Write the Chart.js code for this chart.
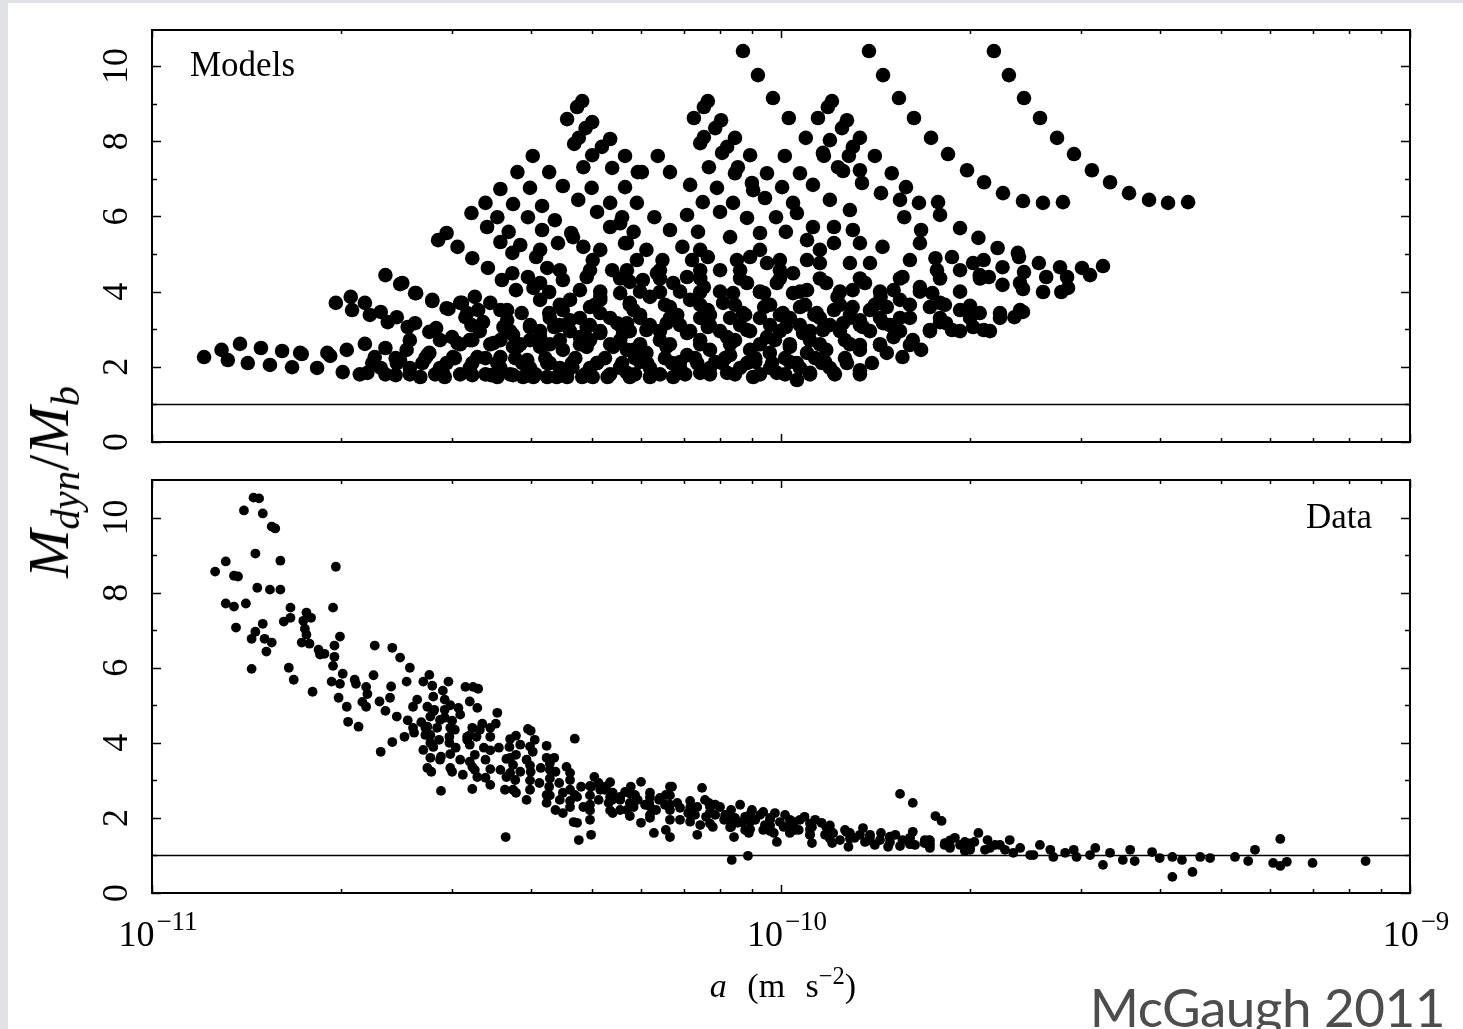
<!DOCTYPE html>
<html>
<head>
<meta charset="utf-8">
<title>Mdyn/Mb vs acceleration</title>
<script src="https://cdn.jsdelivr.net/npm/chart.js@4.4.1/dist/chart.umd.min.js"></script>
<style>
  body { margin: 0; background: #fff; }
  #wrap { position: relative; width: 1463px; height: 1029px; background: #fff; overflow: hidden; }
  .strip { position: absolute; background: #e1e2e6; }
  .pane { position: absolute; left: 0; }
  .lbl { position: absolute; white-space: nowrap; color: #000; font-family: "Liberation Serif", serif; line-height: 1; }
  sub, sup { line-height: 0; }
</style>
</head>
<body>
<div id="wrap">
  <div class="strip" style="left:0;top:0;width:8px;height:1029px"></div>
  <div class="strip" style="left:0;top:0;width:1463px;height:3px"></div>
  <div class="pane" style="top:0"><canvas id="models" width="1463" height="470"></canvas></div>
  <div class="pane" style="top:470px"><canvas id="data" width="1463" height="559"></canvas></div>

  <div class="lbl" style="left:190px;top:47px;font-size:35px">Models</div>
  <div class="lbl" style="right:91px;top:499px;font-size:35px">Data</div>
  <div class="lbl" style="left:49px;top:482px;font-size:58px;font-style:italic;transform:translate(-50%,-50%) rotate(-90deg)">M<sub style="font-size:0.7em;vertical-align:-0.28em">dyn</sub><span style="font-style:normal">/</span>M<sub style="font-size:0.7em;vertical-align:-0.28em">b</sub></div>
  <div class="lbl" style="left:783px;top:969px;font-size:34px;transform:translateX(-50%);word-spacing:12px"><i>a</i> (m s<sup style="font-size:0.72em;vertical-align:0.55em">−2</sup>)</div>
  <div class="lbl" style="right:18px;top:980px;font-size:53px;font-family:Lato,sans-serif;color:#4d4d4d;letter-spacing:-0.5px">McGaugh 2011</div>
</div>

<script>
// acceleration in units of 1e-11 m s^-2, ratio Mdyn/Mb
var modelPoints = [
  [1.21,2.26],[1.29,2.45],[1.32,2.18],[1.38,2.61],[1.42,2.10],[1.49,2.50],[1.54,2.05],[1.61,2.42],[1.67,1.99],[1.73,2.34],
  [1.83,1.97],[1.92,2.29],[2.01,1.86],[2.04,2.45],[2.20,1.84],[2.18,2.61],[2.35,2.50],[2.44,1.78],[2.54,2.45],[2.67,1.73],
  [2.74,2.31],[2.92,1.73],[3.01,2.26],[3.23,1.78],[3.23,2.71],[3.54,1.73],[3.49,2.63],[3.89,1.73],[3.81,2.53],[4.25,1.73],
  [4.57,1.73],[5.02,1.73],
  [1.96,3.70],[2.07,3.86],[2.08,3.51],[2.18,3.70],[2.22,3.38],[2.31,3.46],[2.37,3.19],[2.45,3.32],[2.55,3.06],[2.62,3.16],
  [2.76,2.93],[2.83,3.03],[3.00,2.79],[2.96,3.54],[3.11,3.70],[3.15,3.32],[3.26,3.86],[3.30,3.51],[3.45,3.70],[3.36,3.19],
  [3.62,3.06],[3.67,3.51],[2.35,4.44],[2.50,4.23],[2.62,3.96],[2.79,3.75],
  [4.83,9.07],[4.74,8.91],[4.57,8.59],[5.01,8.51],[4.89,8.35],[4.77,8.09],[4.69,7.93],[5.35,8.06],[5.19,7.85],[5.01,7.63],
  [5.65,7.61],[4.03,7.61],[3.81,7.18],[4.28,7.18],[4.85,7.31],[5.39,7.29],[5.92,7.18],[3.58,6.73],[3.99,6.76],[4.50,6.81],
  [5.00,6.76],[5.65,6.78],[3.39,6.36],[3.22,6.09],[3.75,6.33],[4.17,6.28],[4.76,6.44],[5.35,6.36],[5.10,6.12],[5.90,6.36],
  [3.54,5.98],[3.96,5.98],[4.37,5.90],[5.59,5.98],[3.41,5.72],[3.69,5.59],[4.17,5.64],[4.64,5.56],[5.35,5.72],[5.83,5.59],
  [2.94,5.56],[2.85,5.37],[3.06,5.19],[3.58,5.32],[3.85,5.24],[4.42,5.29],[4.67,5.45],[4.85,5.19],[5.65,5.29],[3.23,4.89],
  [3.74,5.03],[4.08,4.92],[4.25,4.63],[5.02,4.84],[5.39,4.57],[5.90,4.84],[3.42,4.63],[3.60,4.31],[3.74,4.49],[3.96,4.39],
  [4.50,4.31],[4.14,4.23],[4.91,4.39],[5.75,4.26],[2.48,4.20],[2.63,3.96],[2.79,3.78],[2.94,3.56],[3.09,3.70],[3.79,4.04],
  [4.04,4.10],[4.28,3.99],[4.79,4.04],[5.16,3.86],[5.55,3.96],[3.17,3.43],[3.22,3.11],[3.58,3.51],[3.67,3.24],[3.87,3.43],
  [3.99,3.06],[4.28,3.43],[4.36,3.06],[4.50,3.51],[4.62,3.24],[4.97,3.59],[4.91,3.06],[5.16,3.43],[5.49,3.16],[5.83,3.51],
  [3.75,2.85],[4.14,2.79],[4.79,2.79],[5.16,2.90],[5.61,2.90],
  [1.72,2.37],[1.90,2.37],[2.26,2.26],[2.48,2.18],[2.76,2.37],[2.90,1.84],[3.06,2.63],[3.29,2.26],[3.46,1.78],[3.58,2.26],
  [3.75,1.78],[3.75,2.53],[3.95,2.18],[4.04,1.73],[4.14,2.53],[4.29,2.10],[4.40,1.73],[4.50,2.45],[4.66,1.99],[4.83,1.73],
  [4.91,2.53],[5.10,2.10],[5.30,1.73],[5.41,2.53],[5.55,1.99],[5.75,1.73],[5.83,2.45],
  [8.70,10.40],[9.19,9.76],[9.71,9.15],[10.29,8.62],[10.95,8.09],[11.70,7.61],[12.55,7.21],[13.45,6.89],[14.42,6.62],[15.46,6.44],
  [16.57,6.36],[17.77,6.38],
  [13.8,10.40],[14.53,9.76],[15.40,9.15],[16.27,8.62],[17.32,8.09],[18.43,7.66],[19.76,7.23],[21.03,6.91],[22.54,6.62],[24.25,6.41],
  [26.09,6.36],[28.07,6.38],
  [21.8,10.40],[23.03,9.76],[24.34,9.15],[25.81,8.62],[27.47,8.09],[29.23,7.66],[31.21,7.23],[33.35,6.91],[35.75,6.62],[38.47,6.44],
  [41.24,6.36],[44.38,6.38],
  [7.65,9.07],[7.54,8.91],[7.27,8.62],[8.03,8.56],[7.86,8.35],[7.54,8.11],[7.44,7.95],[8.45,8.09],[8.21,7.85],[8.06,7.69],
  [8.93,7.63],[7.68,7.31],[8.54,7.31],[8.45,7.15],[9.50,7.15],[10.14,7.61],[10.72,7.15],[7.17,6.84],[7.91,6.76],[8.99,6.89],
  [9.03,6.70],[10.04,6.78],[11.24,6.84],[6.66,7.18],[6.37,7.61],[6.01,7.18],[7.51,6.38],[8.39,6.36],[9.43,6.49],[10.45,6.36],
  [11.96,6.44],[6.29,5.98],[7.09,6.04],[8.00,6.12],[8.83,5.96],[9.82,5.98],[10.60,6.09],[11.24,5.72],[12.87,6.17],[12.14,5.72],
  [5.55,5.82],[6.66,5.64],[7.38,5.59],[8.30,5.45],[9.26,5.56],[10.18,5.59],[11.00,5.37],[13.01,5.64],[13.35,5.29],[12.14,5.29],
  [12.05,9.07],[11.87,8.91],[11.45,8.62],[12.73,8.56],[12.50,8.35],[11.96,8.03],[11.66,7.69],[13.35,8.09],[13.01,7.85],[12.82,7.61],
  [14.1,7.61],[12.32,7.31],[13.35,7.23],[15.0,7.15],[15.8,6.78],[15.7,5.98],[16.7,5.64],[17.9,6.04],[19.26,5.69],[20.6,5.43],
  [22.1,5.16],[23.8,5.03],[16.63,5.29],[17.6,4.89],[18.7,4.92],[20.2,4.76],[22.5,4.65],[19.26,4.57],[20.7,4.44],[22.5,4.18],
  [23.99,4.23],[17.7,4.57],[16.03,4.84],[14.5,5.19],[13.85,4.76],[15.6,4.39],[16.63,4.12],[17.4,3.96],[17.25,3.59],[15.1,4.04],
  [5.69,5.29],[6.11,5.11],[6.48,4.84],[6.97,5.19],[7.22,4.84],[7.65,4.92],[8.00,4.57],[8.51,4.84],[8.93,4.92],[9.50,4.76],
  [9.96,4.84],[10.45,4.49],[11.0,4.84],[11.53,4.76],[12.87,4.76],[5.69,4.57],[6.03,4.31],[6.35,4.49],[6.74,4.23],[7.09,4.39],
  [7.54,4.12],[8.83,4.23],[8.39,3.96],[9.40,3.96],[9.85,4.23],[10.45,3.96],[11.0,4.04],[11.8,4.23],[12.3,3.86],[13.0,4.04],
  [13.6,4.23],[14.4,3.86],
  [5.75,3.70],[6.19,3.86],[6.66,3.59],[7.17,3.78],[7.65,3.51],[8.09,3.70],[8.70,3.43],[9.40,3.59],[10.07,3.43],[10.72,3.59],
  [11.40,3.43],[12.14,3.51],[13.0,3.59],[13.85,3.51],[14.73,3.59],
  [5.69,3.16],[6.11,2.98],[6.58,3.16],[7.09,2.90],[7.65,3.06],[8.21,2.79],[8.83,2.98],[9.50,2.79],[10.18,3.06],[10.84,2.90],
  [11.66,2.98],[12.55,3.16],[13.5,3.06],[14.53,3.16],[15.1,2.79],[16.2,2.71],[17.25,2.98],[18.3,3.16],[19.26,3.51],[20.7,3.43],
  [22.29,3.43],[23.99,3.51],[18.7,2.98],[20.2,3.06],
  [5.69,2.45],[6.11,2.37],[6.58,2.53],[7.09,2.31],[7.71,2.45],[8.30,2.31],[8.93,2.45],[9.60,2.37],[10.33,2.53],[11.0,2.37],
  [11.8,2.45],[13.35,2.45],[14.73,2.37],[15.6,2.26],[16.7,2.45],[13.35,1.91],
  [5.69,1.84],[6.19,1.73],[6.74,1.73],[7.44,1.84],[8.21,1.84],[9.03,1.73],[9.85,1.84],[10.6,1.65],[11.12,1.84],[12.14,1.84],
  [5.97,3.38],[6.84,3.38],[7.71,3.38],[8.77,3.38],[9.96,3.38],[11.3,3.38],[12.87,3.38],
  [6.42,2.71],[7.44,2.71],[8.45,2.71],[9.78,2.71],[11.12,2.71],[12.64,2.71],
  [5.97,2.13],[6.91,2.13],[7.86,2.13],[9.10,2.13],[10.33,2.13],[11.75,2.13],
  [6.42,3.99],[7.44,3.99],[9.26,3.99],
  [23.9,4.92],[25.7,4.76],[27.77,4.65],[30.1,4.63],[32.5,4.68],[21.0,4.84],[24.34,4.52],[26.4,4.39],[28.5,4.39],[31.0,4.44],
  [21.4,4.39],[24.25,4.07],[26.1,3.99],[27.9,3.99],[28.6,4.10],[23.5,3.32],[24.25,3.46],[21.0,2.98],
  [2.31,1.97],[2.57,1.97],[2.87,1.97],[3.20,1.97],[3.58,1.97],[3.99,1.97],[4.45,1.97],[4.97,1.97],[5.55,1.97],[6.19,1.97],
  [6.91,1.97],[7.71,1.97],[8.61,1.97],[9.61,1.97],[10.72,1.97],[11.96,1.97],
  [2.44,2.23],[2.72,2.23],[3.03,2.23],[3.39,2.23],[3.78,2.23],[4.22,2.23],[4.71,2.23],[5.25,2.23],[5.86,2.23],[6.54,2.23],
  [7.30,2.23],[8.15,2.23],[9.10,2.23],[10.15,2.23],[11.33,2.23],[12.64,2.23],
  [2.57,2.71],[2.87,2.71],[3.20,2.71],[3.58,2.71],[3.99,2.71],[4.45,2.71],[4.97,2.71],[5.55,2.71],
  [3.99,3.11],[4.45,3.11],[4.97,3.11],[5.55,3.11],[6.19,3.11],[6.91,3.11],[7.71,3.11],[8.61,3.11],[9.61,3.11],[10.72,3.11],
  [11.96,3.11],[13.35,3.11],[14.90,3.11],
  [4.14,3.78],[4.62,3.78],[5.16,3.78],
  [4.45,4.57],[4.97,4.57],[6.42,4.57],[7.44,4.57],[8.61,4.57],[9.96,4.57],
  [4.14,5.11],[5.16,5.11],[7.44,5.11],[9.26,5.11],[11.53,5.11],
  [13.35,3.24],[15.46,3.30],[17.90,3.19],[13.35,2.58],[14.37,2.58],[16.03,2.58],[15.46,3.78],[17.9,3.70],[19.98,3.62],
  [2.14,1.80],[2.35,1.80],[2.57,1.80],[2.82,1.80],[3.09,1.80],[3.39,1.80],[3.71,1.80],[4.07,1.80],[4.45,1.80],[4.88,1.80],
  [5.35,1.80],[5.86,1.80],[6.42,1.80],[7.04,1.80],[7.71,1.80],[8.45,1.80],[9.26,1.80],[10.15,1.80],[11.12,1.80],[12.18,1.80],
  [13.35,1.80],
  [2.24,2.10],[2.45,2.10],[2.69,2.10],[2.94,2.10],[3.23,2.10],[3.54,2.10],[3.88,2.10],[4.25,2.10],[4.65,2.10],[5.10,2.10],
  [5.59,2.10],[6.13,2.10],[6.71,2.10],[7.36,2.10],[8.06,2.10],[8.83,2.10],[9.68,2.10],[10.6,2.10],[11.62,2.10],[12.73,2.10],
  [13.95,2.10],
  [3.09,2.60],[3.45,2.60],[3.85,2.60],[4.29,2.60],[4.79,2.60],[5.35,2.60],[5.97,2.60],[6.66,2.60],[7.44,2.60],[8.30,2.60],
  [9.26,2.60],[10.33,2.60],[11.53,2.60],[12.87,2.60],[14.37,2.60],
  [3.32,2.95],[3.71,2.95],[4.14,2.95],[4.62,2.95],[5.16,2.95],[5.75,2.95],[6.42,2.95],[7.17,2.95],[8.00,2.95],[8.93,2.95],
  [9.96,2.95],[11.12,2.95],[12.41,2.95],[13.85,2.95],[15.46,2.95],[17.25,2.95],[19.26,2.95],[21.49,2.95],
  [4.29,3.30],[4.79,3.30],[5.35,3.30],[5.97,3.30],[6.66,3.30],[7.44,3.30],[8.30,3.30],[9.26,3.30],[10.33,3.30],[11.53,3.30],
  [12.87,3.30],[14.37,3.30],[16.03,3.30],[17.9,3.30],[19.98,3.30],[22.29,3.30],
  [4.45,3.65],[5.06,3.65],[5.75,3.65],[6.54,3.65],[7.44,3.65],[8.45,3.65],[9.61,3.65],[10.92,3.65],[12.41,3.65],[14.1,3.65],
  [16.03,3.65],[18.22,3.65],
  [5.16,4.00],[5.97,4.00],[6.91,4.00],[8.00,4.00],[9.26,4.00],[10.72,4.00],[12.41,4.00],[14.37,4.00],[16.63,4.00],[19.26,4.00],
  [5.55,4.35],[6.42,4.35],[7.44,4.35],[8.61,4.35],[9.96,4.35],[11.53,4.35],[13.35,4.35],[15.46,4.35],[17.9,4.35],[20.72,4.35]
];

var dataPoints = [
  [1.26,8.56],[1.31,8.83],[1.35,8.45],[1.37,8.43],[1.40,10.19],[1.45,10.53],[1.48,10.51],[1.50,10.11],[1.55,9.76],[1.57,9.71],
  [1.46,9.04],[1.60,8.85],[1.47,8.13],[1.54,8.08],[1.60,8.08],[1.31,7.71],[1.35,7.63],[1.41,7.71],[1.36,7.07],[1.46,6.96],
  [1.44,6.77],[1.50,7.17],[1.51,6.77],[1.55,6.67],[1.52,6.43],[1.44,5.97],[1.62,7.23],[1.66,7.33],[1.66,7.60],[1.74,7.25],
  [1.76,7.47],[1.79,7.33],[1.75,7.04],[1.76,6.88],[1.73,6.67],[1.78,6.64],[1.84,6.48],[1.85,6.35],[1.88,6.37],[1.65,6.00],
  [1.68,5.68],[1.80,5.36],[1.94,7.60],[1.96,8.69],[1.99,6.83],[1.95,6.59],[1.95,6.29],[1.94,6.05],[1.93,5.63],[1.99,5.57],
  [2.01,5.84],[1.98,5.20],[2.04,4.96],[2.05,4.56],[2.10,5.68],[2.11,5.57],[2.19,5.49],[2.16,5.09],[2.19,4.96],[2.13,4.43],
  [2.26,6.59],[2.41,6.53],[2.48,6.27],[2.57,6.00],[2.54,5.63],[2.39,5.20],[2.35,4.85],[2.60,4.96],[2.64,5.15],[2.70,5.63],
  [2.76,5.81],[2.79,5.52],[2.74,4.96],[2.81,4.88],[2.80,5.23],[2.90,5.39],[2.96,5.63],[2.92,5.15],[2.92,4.67],[3.00,4.59],
  [3.07,4.93],[3.15,5.49],[3.24,5.49],[3.30,5.44],[3.29,4.93],[3.23,4.40],[3.35,4.51],[3.54,4.80],[3.52,4.51],[3.96,4.37],
  [2.74,4.43],[2.84,4.40],
  [2.80,4.83],[2.92,4.88],[3.17,4.16],[3.17,4.08],[3.28,4.16],[3.45,4.16],[2.72,4.40],[2.72,4.21],[2.86,4.08],[2.97,4.16],
  [2.70,3.81],[2.80,3.89],[2.97,4.00],[3.04,3.87],[2.88,3.63],[2.74,3.33],[2.78,3.23],[2.98,3.33],[3.00,3.23],[3.12,3.15],
  [2.88,2.72],[3.23,2.77],[3.23,3.36],[3.26,3.68],[3.37,3.87],[3.29,3.09],[3.39,3.07],[3.56,3.87],[3.70,3.89],[3.79,4.19],
  [4.00,4.32],[4.24,3.92],[3.66,3.57],[3.79,3.68],[3.94,3.55],[4.03,3.76],[4.24,3.60],[4.36,3.60],[3.75,3.41],[3.85,3.23],
  [4.00,3.23],[4.15,3.33],[4.38,3.23],[4.56,3.36],[3.66,3.09],[3.75,2.75],[3.79,2.67],[3.94,2.48],[4.24,2.40],[4.13,2.93],
  [4.28,2.83],[4.44,2.93],[4.50,2.67],[4.62,3.01],[4.70,4.11],[4.81,2.83],[4.74,2.56],[4.38,2.21],[4.50,2.13],[4.68,1.89],
  [4.74,1.87],[4.97,1.95],[4.99,1.55],[4.77,1.41],[3.65,1.49],[4.62,2.29],[4.85,2.29],[5.05,3.09],[4.99,2.83],[5.13,2.93],
  [5.27,2.83],[5.40,2.67],[5.13,2.48],[5.32,2.40],[5.55,2.48],[5.40,2.13],[5.69,2.21],[5.83,2.29],[5.55,2.56],[5.77,2.83],
  [5.99,2.96],[6.19,2.67],[5.92,2.48],[6.17,2.40],[6.40,2.48],[6.66,2.83],[6.71,2.83],[6.56,2.61],[6.84,2.40],[6.66,2.21],
  [6.33,2.21],[5.99,1.87],[6.28,1.60],[6.56,1.68],[6.66,1.49],[7.12,2.13],[7.36,2.29],[7.36,1.55],[7.49,2.80],[7.68,2.40],
  [8.00,2.29],[8.33,2.21],[8.61,2.35],[7.60,2.03],[7.79,1.76],[8.12,1.95],[8.33,1.76],[8.54,1.87],[8.77,2.03],[8.99,2.21],
  [9.37,2.16],[9.78,2.13],[8.42,1.49],[8.89,1.60],[9.37,1.68],[9.74,1.60],[9.85,1.36],[10.1,1.76],[10.5,1.89],[10.67,1.68],
  [10.9,2.03],[11.2,1.76],[11.2,1.33],[11.6,1.87],[11.8,1.76],[12.06,1.33],[12.1,1.60],[12.7,1.63],[12.8,1.23],[13.5,1.73],
  [13.85,1.55],[14.42,1.60],[14.8,1.23],[15.46,2.64],[16.2,2.40],[15.6,1.41],[16.2,1.63],[16.9,1.33],[17.2,1.41],[17.6,2.05],
  [18.0,1.92],[18.2,1.28],[18.9,1.47],[19.6,1.12],[20.3,1.36],[20.6,1.60],[8.35,0.88],[8.86,0.99],
  [5.16,2.75],[5.39,2.48],[5.65,2.69],[6.08,2.35],[6.42,2.53],[6.91,2.27],[7.30,2.08],[7.57,2.48],[7.86,2.08],[8.45,2.00],
  [8.67,1.89],[9.10,1.95],[9.43,1.81],[9.96,1.89],[10.33,1.68],[10.72,1.95],[11.12,1.55],[11.75,1.55],[12.41,1.41],[13.1,1.47],
  [13.6,1.36],[14.1,1.28],[14.9,1.47],[15.46,1.25],[16.33,1.28],[17.25,1.20],[18.56,1.20],[19.26,1.28],[19.98,1.15],[21.1,1.15],
  [2.87,4.61],[3.03,4.35],[3.20,3.95],[3.39,3.55],[3.58,3.28],[3.78,3.01],[3.99,2.75],[4.24,2.61],[4.45,2.48],[3.09,3.55],
  [3.26,3.28],[3.45,2.88],[3.64,2.75],[3.85,3.95],[4.06,4.08],[4.29,3.28],[2.87,3.55],[2.77,4.21],[3.09,4.75],[3.32,4.35],
  [4.70,2.61],[4.97,2.35],[5.25,2.75],[5.55,2.21],[5.86,2.61],[6.19,2.08],[6.54,2.35],[6.91,1.95],[7.17,2.27],[7.44,1.81],
  [7.86,2.35],[8.15,2.08],[8.77,1.68],[9.26,2.08],[9.61,1.95],[10.15,2.08],[10.52,1.68],[11.33,1.95],[11.96,1.68],[12.64,1.68],
  [13.35,1.55],[14.37,1.41],[15.2,1.55],[16.03,1.47],[16.93,1.41],[18.22,1.33],[19.6,1.36],[21.49,1.20],[22.29,1.28],
  [2.77,3.60],[2.77,4.00],[2.77,4.70],[2.98,3.70],[2.98,4.40],[2.98,5.00],[3.20,3.50],[3.20,4.20],[3.20,5.10],[3.45,3.30],
  [3.45,3.80],[3.45,4.40],[3.71,3.20],[3.71,3.60],[3.71,4.10],[3.99,3.00],[3.99,3.40],[3.99,3.90],[4.29,2.60],[4.29,3.05],
  [4.29,3.45],[4.62,2.45],[4.62,2.75],[4.62,3.20],[4.97,2.20],[4.97,2.60],[4.97,2.85],[5.35,2.20],[5.35,2.55],[5.35,2.95],
  [5.75,2.05],[5.75,2.40],[5.75,2.65],[6.19,2.00],[6.19,2.30],[6.19,2.55],[6.66,1.95],[6.66,2.35],[6.66,2.60],[7.17,1.90],
  [7.17,2.10],[7.17,2.45],[7.71,1.85],[7.71,2.15],[7.71,2.30],[8.30,1.75],[8.30,1.95],[8.30,2.10],[8.93,1.70],[8.93,1.90],
  [8.93,2.10],[9.61,1.65],[9.61,1.80],[9.61,2.00],[10.33,1.60],[10.33,1.80],[10.33,1.95],[11.12,1.55],[11.12,1.70],[11.12,1.85],
  [11.96,1.45],[11.96,1.60],[11.96,1.80],[12.87,1.45],[12.87,1.60],[13.85,1.40],[13.85,1.50],[14.9,1.35],[14.9,1.50],[16.03,1.30],
  [16.03,1.45],[17.25,1.30],[17.25,1.40],[18.56,1.25],[18.56,1.40],[19.98,1.20],[19.98,1.32],
  [2.20,5.30],[2.30,5.10],[2.45,4.70],[2.55,4.60],[2.25,5.80],[2.40,5.50],[2.60,4.40],[2.68,4.55],
  [2.31,3.76],[2.41,4.02],[2.52,4.16],[2.61,4.27],
  [21.3,1.41],[21.9,1.28],[22.7,1.15],[23.1,1.41],[24.0,1.20],[24.9,1.01],[25.8,1.28],[26.8,1.15],[23.4,1.07],[25.2,1.01],
  [27.1,0.96],[28.3,1.07],[29.5,0.96],[29.2,1.15],[31.0,1.01],[31.6,1.20],[32.5,0.75],[33.35,1.07],[34.95,0.88],[35.9,1.15],
  [36.5,0.85],[38.9,1.09],[40.0,0.93],[41.9,0.96],[41.9,0.43],[43.4,0.88],[45.1,0.56],[46.4,0.96],[48.1,0.93],[52.7,0.96],
  [55.3,0.85],[56.7,1.15],[60.6,0.80],[62.2,0.72],[63.7,0.83],[62.2,1.44],[70.0,0.80],[85.0,0.85]
];

// axis ticks (x in units of 1e-11 m s^-2)
var xMajorTicks = [1, 10, 100];
var xTickExponents = ['−11', '−10', '−9'];
var xMinorTicks = [2, 3, 4, 5, 6, 7, 8, 9, 20, 30, 40, 50, 60, 70, 80, 90];
var yMajorTicks = [0, 2, 4, 6, 8, 10];
var yMinorTicks = [1, 3, 5, 7, 9];
var unityLine = [[1, 1], [100, 1]];

var serif = '"Liberation Serif", "Times New Roman", serif';

// frame, inward ticks and tick labels, drawn from the chart's own scales
var frameTicks = {
    id: 'frameTicks',
    afterDraw: function(chart, args, opts) {
        var ctx = chart.ctx, a = chart.chartArea;
        var x = chart.scales.x, y = chart.scales.y;
        ctx.save();
        ctx.strokeStyle = '#000';
        ctx.fillStyle = '#000';
        ctx.lineWidth = 1.5;
        ctx.beginPath();
        function xt(v, len) {
            var px = Math.round(x.getPixelForValue(v)) + 0.5;
            ctx.moveTo(px, a.top); ctx.lineTo(px, a.top + len);
            ctx.moveTo(px, a.bottom); ctx.lineTo(px, a.bottom - len);
        }
        function yt(v, len) {
            var py = Math.round(y.getPixelForValue(v)) + 0.5;
            ctx.moveTo(a.left, py); ctx.lineTo(a.left + len, py);
            ctx.moveTo(a.right, py); ctx.lineTo(a.right - len, py);
        }
        xMajorTicks.forEach(function(v) { xt(v, 8); });
        xMinorTicks.forEach(function(v) { xt(v, 4); });
        yMajorTicks.forEach(function(v) { yt(v, 9); });
        yMinorTicks.forEach(function(v) { yt(v, 5); });
        ctx.stroke();

        ctx.lineWidth = 2;
        ctx.strokeRect(a.left, a.top, a.right - a.left, a.bottom - a.top);

        // y tick labels, rotated
        ctx.font = '36px ' + serif;
        ctx.textAlign = 'center';
        ctx.textBaseline = 'alphabetic';
        yMajorTicks.forEach(function(v) {
            ctx.save();
            ctx.translate(a.left - 25, y.getPixelForValue(v));
            ctx.rotate(-Math.PI / 2);
            ctx.fillText(String(v), 0, 0);
            ctx.restore();
        });

        // x tick labels 10^n
        if (opts.xLabels) {
            ctx.textAlign = 'left';
            xMajorTicks.forEach(function(v, i) {
                ctx.font = '36px ' + serif;
                var wb = ctx.measureText('10').width;
                ctx.font = '27px ' + serif;
                var we = ctx.measureText(xTickExponents[i]).width;
                var start = x.getPixelForValue(v) + 6 - (wb + we + 2) / 2;
                ctx.font = '36px ' + serif;
                ctx.fillText('10', start, a.bottom + 53);
                ctx.font = '27px ' + serif;
                ctx.fillText(xTickExponents[i], start + wb + 2, a.bottom + 37);
            });
        }
        ctx.restore();
    }
};

function makeChart(id, points, radius, yMax, padding, xLabels) {
    var canvas = document.getElementById(id);
    return new Chart(canvas, {
        type: 'scatter',
        data: {
            datasets: [
                {
                    data: points.map(function(p) { return {x: p[0], y: p[1]}; }),
                    pointRadius: radius,
                    pointBorderWidth: 0,
                    pointBackgroundColor: '#000',
                    showLine: false
                },
                {
                    data: unityLine.map(function(p) { return {x: p[0], y: p[1]}; }),
                    showLine: true,
                    borderColor: '#000',
                    borderWidth: 1.5,
                    pointRadius: 0
                }
            ]
        },
        options: {
            responsive: false,
            animation: false,
            devicePixelRatio: 1,
            layout: { padding: padding },
            plugins: { legend: { display: false }, tooltip: { enabled: false }, frameTicks: { xLabels: xLabels } },
            scales: {
                x: { type: 'logarithmic', min: 1, max: 100, display: false },
                y: { type: 'linear', min: 0, max: yMax, display: false }
            }
        },
        plugins: [frameTicks]
    });
}

makeChart('models', modelPoints, 7.3, 10.96, {top: 30, right: 53, bottom: 28, left: 152}, false);
makeChart('data', dataPoints, 4.9, 11, {top: 10, right: 53, bottom: 136, left: 152}, true);
</script>
</body>
</html>
